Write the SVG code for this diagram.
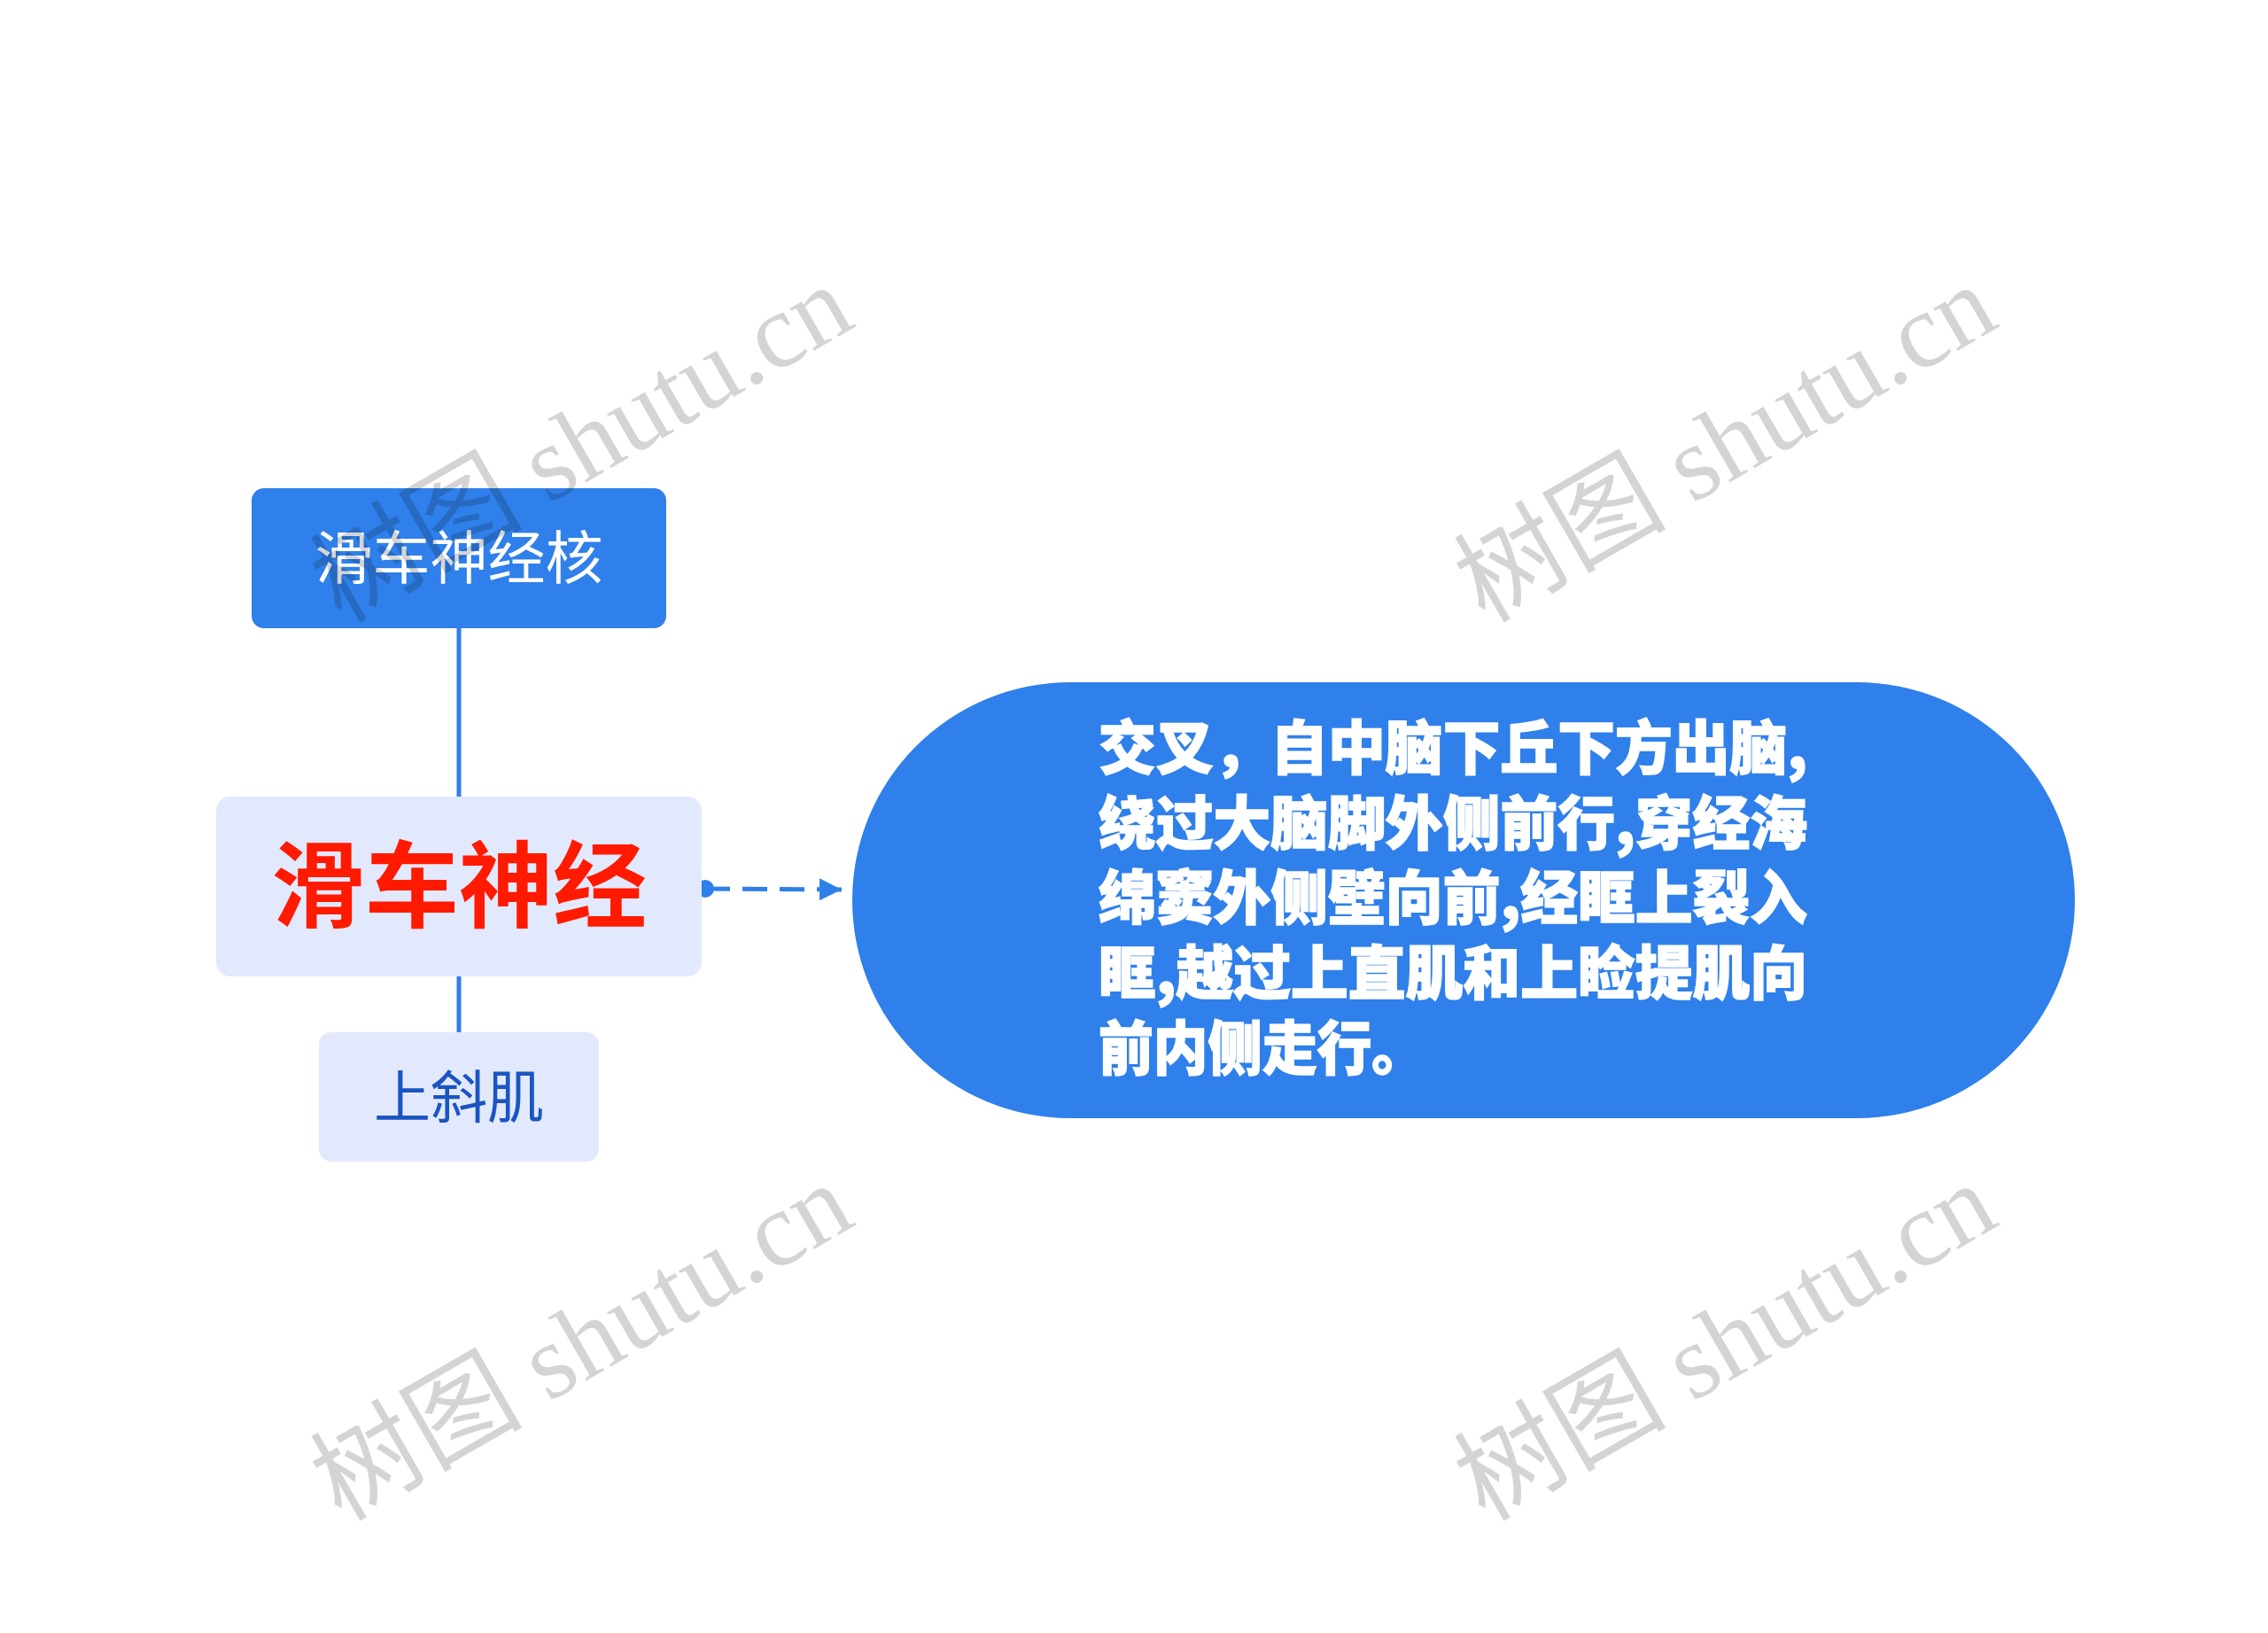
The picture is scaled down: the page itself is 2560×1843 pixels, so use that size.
<svg xmlns="http://www.w3.org/2000/svg" width="2560" height="1843" viewBox="0 0 2560 1843">
<defs>
<style>
.blue{fill:#2F80EA;}
.light{fill:#E3E9FD;}
.cjk{font-family:"Noto Sans CJK SC","Noto Sans",sans-serif;}
.wm{font-family:"Liberation Serif","Noto Sans CJK SC",serif;font-size:120px;fill:#000;fill-opacity:0.17;}
.link{stroke:#2F80EA;stroke-width:5;fill:none;}
</style>
<marker id="arr" viewBox="0 0 10 10" refX="10" refY="5" markerWidth="5" markerHeight="6" markerUnits="strokeWidth" orient="auto">
<path d="M0,0 L10,5 L0,10 Z" fill="#2F80EA"/>
</marker>
</defs>
<rect width="2560" height="1843" fill="#FFFFFF"/>
<g id="connectors">
<line class="link" x1="518" y1="709" x2="518" y2="899"/>
<line class="link" x1="518" y1="1102" x2="518" y2="1165"/>
<circle cx="796" cy="1003" r="10" fill="#2F80EA"/>
<line class="link" x1="796" y1="1003" x2="950" y2="1004" stroke-dasharray="28 14" marker-end="url(#arr)"/>
</g>
<g id="node-nucleus">
<rect class="blue" x="284" y="551" width="468" height="158" rx="14"/>
<text class="cjk" x="518" y="653" font-size="65" fill="#FFFFFF" text-anchor="middle">滑车神经核</text>
</g>
<g id="node-root">
<rect class="light" x="244" y="899" width="548" height="203" rx="16"/>
<text class="cjk" x="518" y="1038" font-size="106" font-weight="bold" fill="#FF1A00" text-anchor="middle">滑车神经</text>
</g>
<g id="node-muscle">
<rect class="light" x="360" y="1165" width="316" height="146" rx="14"/>
<text class="cjk" x="518" y="1261" font-size="64" fill="#1A55C2" text-anchor="middle">上斜肌</text>
</g>
<g id="node-desc">
<rect class="blue" x="962" y="770" width="1380" height="492" rx="246"/>
<g class="cjk" font-size="66" font-weight="900" fill="#FFFFFF" stroke="#FFFFFF" stroke-width="1.5">
<text x="1240" y="868" textLength="800" lengthAdjust="spacingAndGlyphs">交叉，自中脑下丘下方出脑,</text>
<text x="1240" y="953" textLength="800" lengthAdjust="spacingAndGlyphs">绕过大脑脚外侧前行,穿经海</text>
<text x="1240" y="1037" textLength="800" lengthAdjust="spacingAndGlyphs">绵窦外侧壁向前,经眶上裂入</text>
<text x="1240" y="1122" textLength="800" lengthAdjust="spacingAndGlyphs">眶,越过上直肌和上睑提肌向</text>
<text x="1240" y="1207" textLength="370" lengthAdjust="spacingAndGlyphs">前内侧走行。</text>
</g>
</g>
<g id="watermarks">
<text class="wm" transform="translate(385,704) rotate(-30)">树图 shutu.cn</text>
<text class="wm" transform="translate(1676,704) rotate(-30)">树图 shutu.cn</text>
<text class="wm" transform="translate(385,1718) rotate(-30)">树图 shutu.cn</text>
<text class="wm" transform="translate(1676,1718) rotate(-30)">树图 shutu.cn</text>
</g>
</svg>
